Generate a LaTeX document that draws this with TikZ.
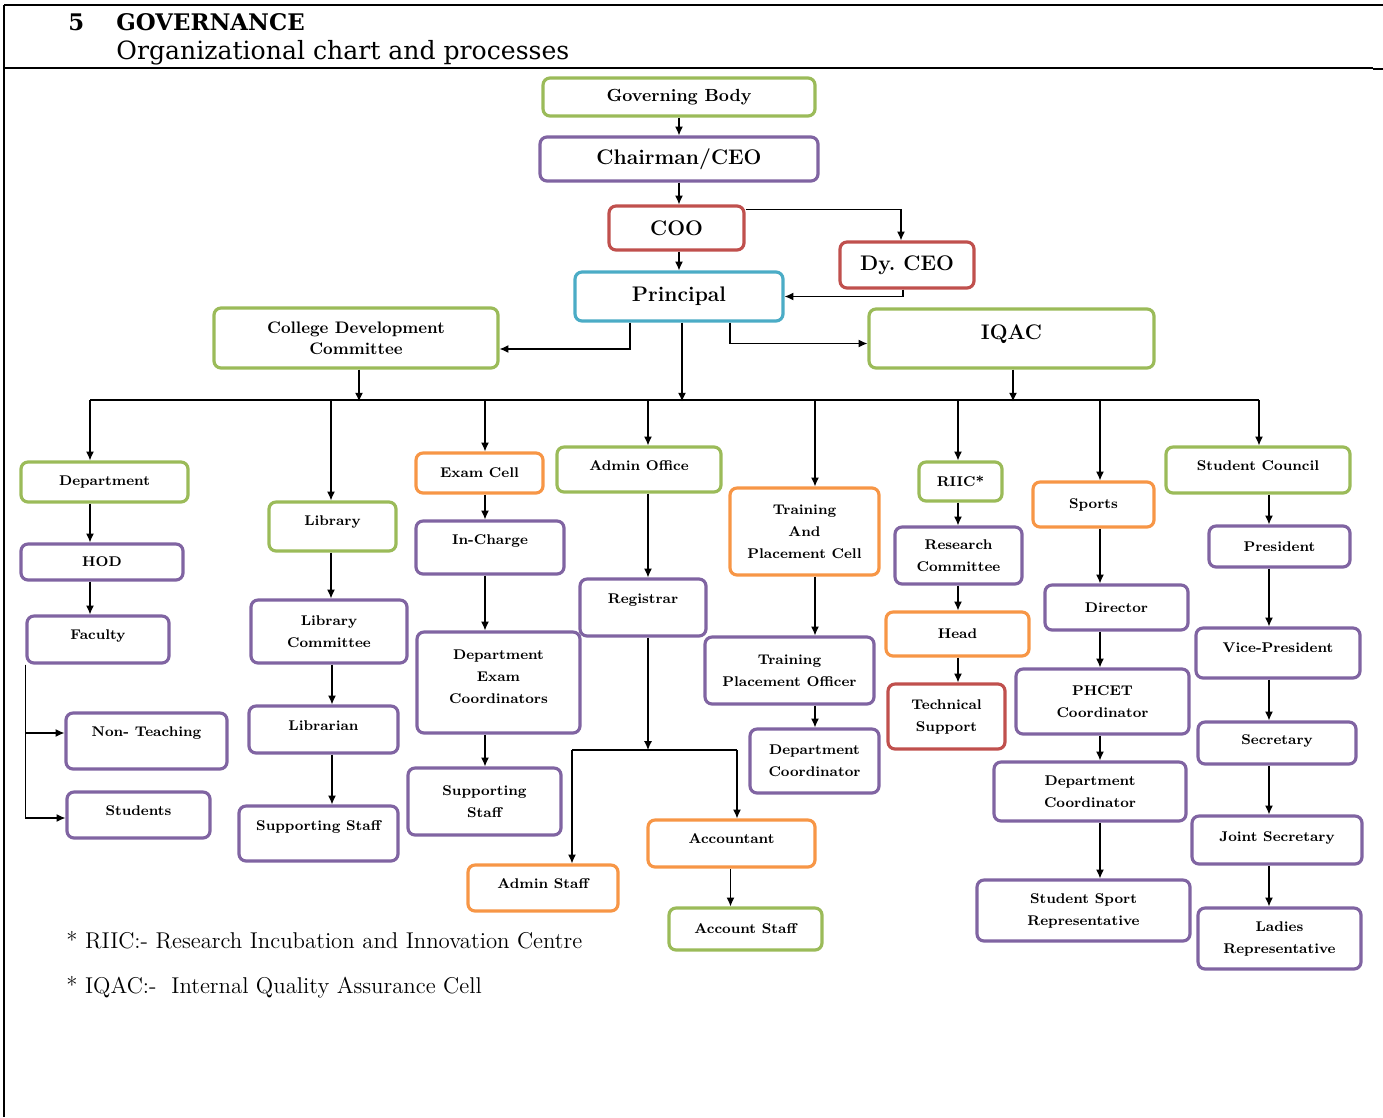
\documentclass[tikz,border=0pt]{standalone}
\usepackage{fontspec}
\usepackage{tikz}
\usetikzlibrary{arrows,arrows.meta,positioning,calc}
\newfontfamily\headfont{DejaVu Serif}
\definecolor{cgreen}{HTML}{9BBB59}
\definecolor{cpurple}{HTML}{8064A2}
\definecolor{cred}{HTML}{C0504D}
\definecolor{cblue}{HTML}{4BACC6}
\definecolor{corange}{HTML}{F79646}
\tikzset{
	box/.style={draw=#1, line width=1.8pt, rounded corners=4pt, fill=white, align=center, inner sep=1pt, font=\bfseries\fontsize{8}{12.5}\selectfont},
	big/.style={font=\bfseries\fontsize{12}{14}\selectfont},
	mid/.style={font=\bfseries\fontsize{9.5}{12}\selectfont},
	px/.style 2 args={minimum width=#1*0.2mm, minimum height=#2*0.2mm},
	up/.style={text depth=#1},
}

\begin{document}
\begin{tikzpicture}[x=0.2mm,y=-0.2mm,>={Latex[length=5pt,width=4.5pt]},line width=0.7pt]
	\useasboundingbox (0,0) rectangle (1383,1117);

	% heading
	\draw[line width=1.4pt] (4,5) -- (1383,5);
	\draw[line width=0.9pt] (4,68) -- (1373,68);
	\draw[line width=1.4pt] (1373,69) -- (1383,69);
	\draw[line width=1.2pt] (4,5) -- (4,1117);
	\node[anchor=base west, font=\headfont\bfseries\fontsize{13}{15}\selectfont] (num) at (62,30) {5};
	\node[anchor=base west, font=\headfont\bfseries\fontsize{13}{15}\selectfont] (title) at (110,30) {GOVERNANCE};
	\node[anchor=base west, font=\headfont\fontsize{14.3}{16}\selectfont] (subtitle) at (110,59) {Organizational chart and processes};

	% top of the chart
	\node[box=cgreen, font=\bfseries\fontsize{10}{12}\selectfont, px={272}{38}] (gb) at (679,97) {Governing Body};
	\node[box=cpurple, big, px={278}{44}] (ceo) at (679,159) {Chairman/CEO};
	\node[box=cred, big, px={135}{44}] (coo) at (676.5,228) {COO};
	\node[box=cred, big, px={134}{46}] (dy) at (907,265) {Dy.\ CEO};
	\node[box=cblue, big, px={208}{49}] (pri) at (679,296.5) {Principal};
	\node[box=cgreen, mid, px={284}{60}] (cdc) at (356,338) {College Development\\Committee};
	\node[box=cgreen, big, up=2.6mm, px={285}{59}] (iqac) at (1011.5,338.5) {IQAC};

	\draw[->] (gb.south) -- (ceo.north);
	\draw[->] (ceo.south) -- (ceo.south |- coo.north);
	\draw[->] (coo.south -| pri.north) -- (pri.north);
	\draw[->] (coo.north east) ++(0,5) -| ($(dy.north)+(-6,0)$);
	\draw[->] (dy.south) ++(-4,0) |- (pri.east);
	\draw[->] (pri.south) ++(-49,0) |- ($(cdc.east)+(0,11)$);
	\draw[->] (pri.south) ++(51,0) |- ($(iqac.west)+(0,5)$);

	% bus
	\coordinate (d1) at (90,400);
	\coordinate (d2) at (331,400);
	\coordinate (d3) at (485,400);
	\coordinate (d4) at (648,400);
	\coordinate (d5) at (815,400);
	\coordinate (d6) at (958,400);
	\coordinate (d7) at (1100,400);
	\coordinate (d8) at (1259,400);
	\draw (d1) -- (d8);
	\draw[->] (pri.south) ++(3,0) -- ++(0,79);
	\draw[->] (cdc.south) ++(3,0) -- ++(0,32);
	\draw[->] (iqac.south) ++(1.5,0) -- ++(0,32);

	% department
	\node[box=cgreen, px={167}{40}] (dept) at (104.5,482) {Department};
	\node[box=cpurple, px={162}{36}] (hod) at (102,562) {HOD};
	\node[box=cpurple, up=1.8mm, px={142}{47}] (fac) at (98,639.5) {Faculty};
	\node[box=cpurple, up=3.6mm, px={161}{56}] (nont) at (146.5,741) {Non- Teaching};
	\node[box=cpurple, up=1.6mm, px={143}{46}] (stud) at (138.5,815) {Students};
	\draw[->] (d1) -- (d1 |- dept.north);
	\draw[->] (dept.south -| d1) -- (hod.north -| d1);
	\draw[->] (hod.south -| d1) -- (fac.north -| d1);
	\draw[->] (fac.south west) |- ($(nont.west)+(0,-8)$);
	\draw[->] (fac.south west) |- ($(stud.west)+(0,3)$);

	% library
	\node[box=cgreen, up=2.2mm, px={127}{49}] (lib) at (332.5,526.5) {Library};
	\node[box=cpurple, px={156}{63}] (libcom) at (329,631.5) {Library\\Committee};
	\node[box=cpurple, up=1.4mm, px={149}{47}] (librn) at (323.5,729.5) {Librarian};
	\node[box=cpurple, up=3.1mm, px={159}{55}] (lstaff) at (318.5,833.5) {Supporting Staff};
	\draw[->] (d2) -- (d2 |- lib.north);
	\draw[->] (lib.south -| d2) -- (libcom.north -| d2);
	\draw[->] ($(libcom.south -| d2)+(1,0)$) -- ($(librn.north -| d2)+(1,0)$);
	\draw[->] ($(librn.south -| d2)+(1,0)$) -- ($(lstaff.north -| d2)+(1,0)$);

	% exam cell
	\node[box=corange, px={127}{40}] (exam) at (479.5,473) {Exam Cell};
	\node[box=cpurple, up=3.1mm, px={148}{53}] (incharge) at (490,547.5) {In-Charge};
	\node[box=cpurple, up=2.4mm, px={163}{101}] (dec) at (498.5,682.5) {Department\\Exam\\Coordinators};
	\node[box=cpurple, px={153}{67}] (estaff) at (484.5,801.5) {Supporting\\Staff};
	\draw[->] (d3) -- (d3 |- exam.north);
	\draw[->] (exam.south -| d3) -- (incharge.north -| d3);
	\draw[->] (incharge.south -| d3) -- (dec.north -| d3);
	\draw[->] (dec.south -| d3) -- (estaff.north -| d3);

	% admin office
	\node[box=cgreen, up=1.5mm, px={164}{45}] (admin) at (639,469.5) {Admin Office};
	\node[box=cpurple, up=3.4mm, px={126}{57}] (reg) at (643,607.5) {Registrar};
	\node[box=corange, up=1.6mm, px={150}{46}] (astaff) at (543,888) {Admin Staff};
	\node[box=corange, up=1.8mm, px={167}{47}] (acct) at (731.5,843.5) {Accountant};
	\node[box=cgreen, px={153}{42}] (acstaff) at (745.5,929) {Account Staff};
	\coordinate (sl) at (572,750);
	\coordinate (sr) at (737,750);
	\draw[->] (d4) -- (d4 |- admin.north);
	\draw[->] (admin.south -| d4) -- (reg.north -| d4);
	\draw[->] (reg.south -| d4) -- (d4 |- sl);
	\draw (sl) -- (sr);
	\draw[->] (sl) -- (sl |- astaff.north);
	\draw[->] (sr) -- (sr |- acct.north);
	\draw[->] ($(acct.south)+(-1,0)$) -- ($(acct.south |- acstaff.north)+(-1,0)$);

	% training and placement
	\node[box=corange, px={149}{87}] (tpc) at (804.5,531.5) {Training\\And\\Placement Cell};
	\node[box=cpurple, px={169}{67}] (tpo) at (789.5,670.5) {Training\\Placement Officer};
	\node[box=cpurple, px={129}{64}] (tdc) at (814.5,761) {Department\\Coordinator};
	\draw[->] (d5) -- (d5 |- tpc.north);
	\draw[->] (tpc.south -| d5) -- (tpo.north -| d5);
	\draw[->] (tpo.south -| d5) -- (tdc.north -| d5);

	% riic
	\node[box=cgreen, px={83}{39}] (riic) at (960.5,481.5) {RIIC*};
	\node[box=cpurple, px={127}{57}] (rescom) at (958.5,555.5) {Research\\Committee};
	\node[box=corange, px={143}{44}] (head) at (957.5,634) {Head};
	\node[box=cred, px={117}{65}] (tech) at (946.5,716.5) {Technical\\Support};
	\draw[->] (d6) -- (d6 |- riic.north);
	\draw[->] (riic.south -| d6) -- (rescom.north -| d6);
	\draw[->] (rescom.south -| d6) -- (head.north -| d6);
	\draw[->] (head.south -| d6) -- (tech.north -| d6);

	% sports
	\node[box=corange, px={121}{45}] (sports) at (1093.5,504.5) {Sports};
	\node[box=cpurple, px={143}{45}] (dir) at (1116.5,607.5) {Director};
	\node[box=cpurple, px={173}{65}] (phcet) at (1102.5,701.5) {PHCET\\Coordinator};
	\node[box=cpurple, px={192}{59}] (sdc) at (1090,791.5) {Department\\Coordinator};
	\node[box=cpurple, px={213}{61}] (ssr) at (1083.5,910.5) {Student Sport\\Representative};
	\draw[->] (d7) -- (d7 |- sports.north);
	\draw[->] (sports.south -| d7) -- (dir.north -| d7);
	\draw[->] (dir.south -| d7) -- (phcet.north -| d7);
	\draw[->] (phcet.south -| d7) -- (sdc.north -| d7);
	\draw[->] (sdc.south -| d7) -- (ssr.north -| d7);

	% student council
	\coordinate (c8) at (1269,0);
	\node[box=cgreen, up=1.6mm, px={184}{46}] (sc) at (1258,470) {Student Council};
	\node[box=cpurple, px={141}{41}] (pres) at (1279.5,546.5) {President};
	\node[box=cpurple, up=2.1mm, px={164}{50}] (vp) at (1278,653) {Vice-President};
	\node[box=cpurple, up=1.4mm, px={158}{42}] (sec) at (1277,743) {Secretary};
	\node[box=cpurple, up=1.4mm, px={170}{48}] (jsec) at (1277,840) {Joint Secretary};
	\node[box=cpurple, px={163}{61}] (lady) at (1279.5,938.5) {Ladies\\Representative};
	\draw[->] (d8) -- (d8 |- sc.north);
	\draw[->] (sc.south -| c8) -- (pres.north -| c8);
	\draw[->] (pres.south -| c8) -- (vp.north -| c8);
	\draw[->] (vp.south -| c8) -- (sec.north -| c8);
	\draw[->] (sec.south -| c8) -- (jsec.north -| c8);
	\draw[->] (jsec.south -| c8) -- (lady.north -| c8);

	% notes
	\node[anchor=base west, font=\fontsize{13}{15}\selectfont] (note1) at (60,948) {* RIIC:- Research Incubation and Innovation Centre};
	\node[anchor=base west, font=\fontsize{13}{15}\selectfont] (note2) at (60,993) {* IQAC:-\ \ Internal Quality Assurance Cell};

\end{tikzpicture}
\end{document}
